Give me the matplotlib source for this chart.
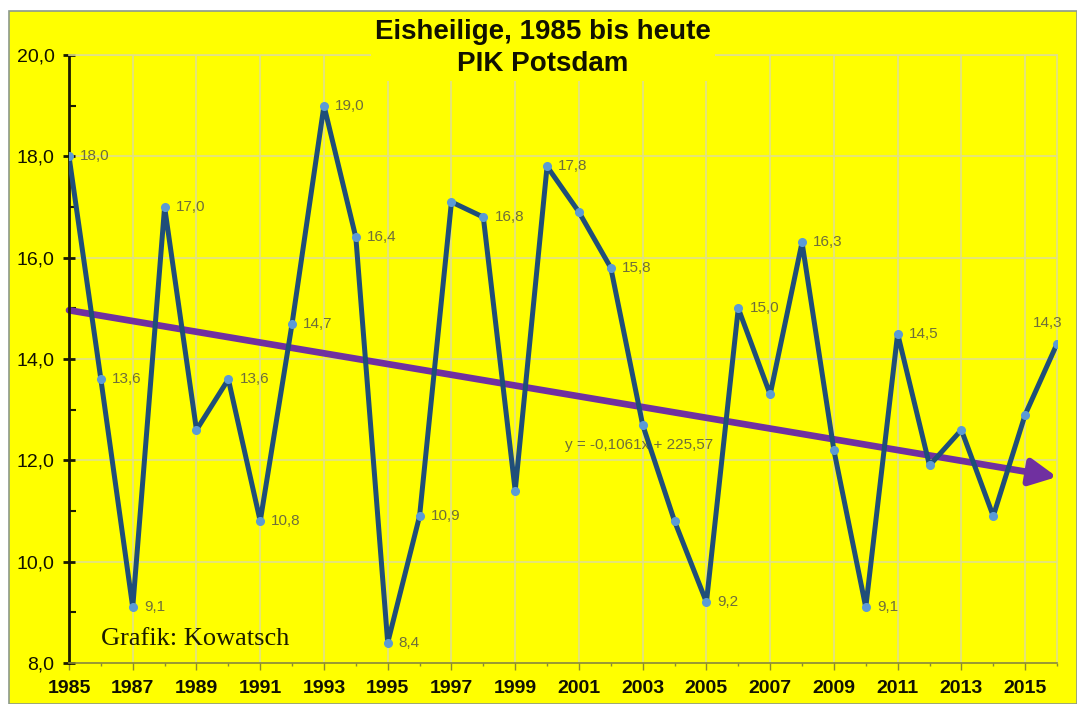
import matplotlib.pyplot as plt
from matplotlib.patches import Rectangle
from matplotlib.ticker import MultipleLocator, FixedLocator

# Daten
jahre = list(range(1985, 2017))
temp = [18.0, 13.6, 9.1, 17.0, 12.6, 13.6, 10.8, 14.7, 19.0, 16.4,
        8.4, 10.9, 17.1, 16.8, 11.4, 17.8, 16.9, 15.8, 12.7, 10.8,
        9.2, 15.0, 13.3, 16.3, 12.2, 9.1, 14.5, 11.9, 12.6, 10.9,
        12.9, 14.3]
beschriftet = [1985, 1986, 1987, 1988, 1990, 1991, 1992, 1993, 1994, 1995,
               1996, 1998, 2000, 2002, 2005, 2006, 2008, 2010, 2011, 2016]
steigung = -0.1061
achsenabschnitt = 225.57
trend_text = "y = -0,1061x + 225,57"

gelb = "#ffff00"
blau = "#1f4e79"
punkt = "#5b9bd5"
lila = "#7030a0"
labelfarbe = "#6e6e3a"
gitter = "#e0e08c"

fig = plt.figure(figsize=(10.77, 7.04), dpi=100, facecolor="white")
fig.patches.append(Rectangle((9 / 1077, 0), 1 - 9 / 1077, 1 - 11 / 704,
                             transform=fig.transFigure, facecolor=gelb,
                             edgecolor="#8c9a8c", linewidth=1.2, zorder=-5))

ax = fig.add_axes([69 / 1077, 41 / 704, 988 / 1077, 608 / 704])
ax.set_facecolor(gelb)

# Trendlinie mit Pfeil
x0, x1 = 1985, 2016
ax.annotate("", xy=(x1, steigung * x1 + achsenabschnitt),
            xytext=(x0, steigung * x0 + achsenabschnitt),
            arrowprops=dict(arrowstyle="-|>,head_length=0.8,head_width=0.4",
                            color=lila, lw=4.8, shrinkA=0, shrinkB=0,
                            mutation_scale=20),
            zorder=2, annotation_clip=False)

ax.plot(jahre, temp, color=blau, lw=3.6, zorder=3, solid_joinstyle="round")
ax.plot(jahre, temp, "o", color=punkt, ms=5.5, zorder=4)

for j, t in zip(jahre, temp):
    if j not in beschriftet:
        continue
    txt = f"{t:.1f}".replace(".", ",")
    if j == 2016:
        ax.annotate(txt, (j, t), xytext=(-7, 10), textcoords="offset points",
                    ha="center", va="bottom", fontsize=11, color=labelfarbe,
                    family="Liberation Sans", zorder=5, annotation_clip=False)
    else:
        ax.annotate(txt, (j, t), xytext=(8, 0), textcoords="offset points",
                    ha="left", va="center", fontsize=11, color=labelfarbe,
                    family="Liberation Sans", zorder=5)

ax.text(2000.55, 12.3, trend_text, fontsize=11, color=labelfarbe,
        family="Liberation Sans", zorder=2.5, va="center")

ax.text(1986.0, 8.36, "Grafik: Kowatsch", fontsize=19, family="Liberation Serif",
        color="#1a1a00", zorder=5)

ax.set_xlim(1985, 2016)
ax.set_ylim(8, 20)
ax.xaxis.set_major_locator(FixedLocator(range(1985, 2016, 2)))
ax.xaxis.set_minor_locator(MultipleLocator(1))
ax.yaxis.set_minor_locator(MultipleLocator(1))
ax.set_yticks([8, 10, 12, 14, 16, 18, 20])
ax.set_yticklabels([f"{v:.1f}".replace(".", ",") for v in [8, 10, 12, 14, 16, 18, 20]])

ax.grid(True, which="major", color=gitter, lw=1.2, zorder=1)
ax.set_axisbelow(True)

for s in ["top", "right"]:
    ax.spines[s].set_color(gitter)
    ax.spines[s].set_linewidth(1.2)
ax.spines["left"].set_color("#1a1a00")
ax.spines["left"].set_linewidth(2)
ax.spines["bottom"].set_color("#8a8a30")
ax.spines["bottom"].set_linewidth(1.2)

ax.tick_params(axis="y", which="major", direction="inout", length=9, width=2,
               color="#1a1a00", pad=6, labelsize=14)
ax.tick_params(axis="y", which="minor", direction="in", length=5, width=1.5,
               color="#1a1a00")
ax.tick_params(axis="x", which="major", direction="out", length=5, width=1,
               color="#8a8a30", pad=7, labelsize=14)
ax.tick_params(axis="x", which="minor", direction="out", length=2, width=1,
               color="#8a8a30")
for lab in ax.get_xticklabels():
    lab.set_fontweight("bold")
    lab.set_family("Liberation Sans")
    lab.set_color("#111100")
for lab in ax.get_yticklabels():
    lab.set_family("Liberation Sans")
    lab.set_color("#111100")

fig.text(0.504, 0.932, "Eisheilige, 1985 bis heute\nPIK Potsdam",
         ha="center", va="center", fontsize=20, fontweight="bold",
         family="Liberation Sans", linespacing=1.3, color="#111100",
         bbox=dict(facecolor=gelb, edgecolor="none", pad=3), zorder=10)

fig.savefig("out.png", dpi=100, facecolor=fig.get_facecolor())
